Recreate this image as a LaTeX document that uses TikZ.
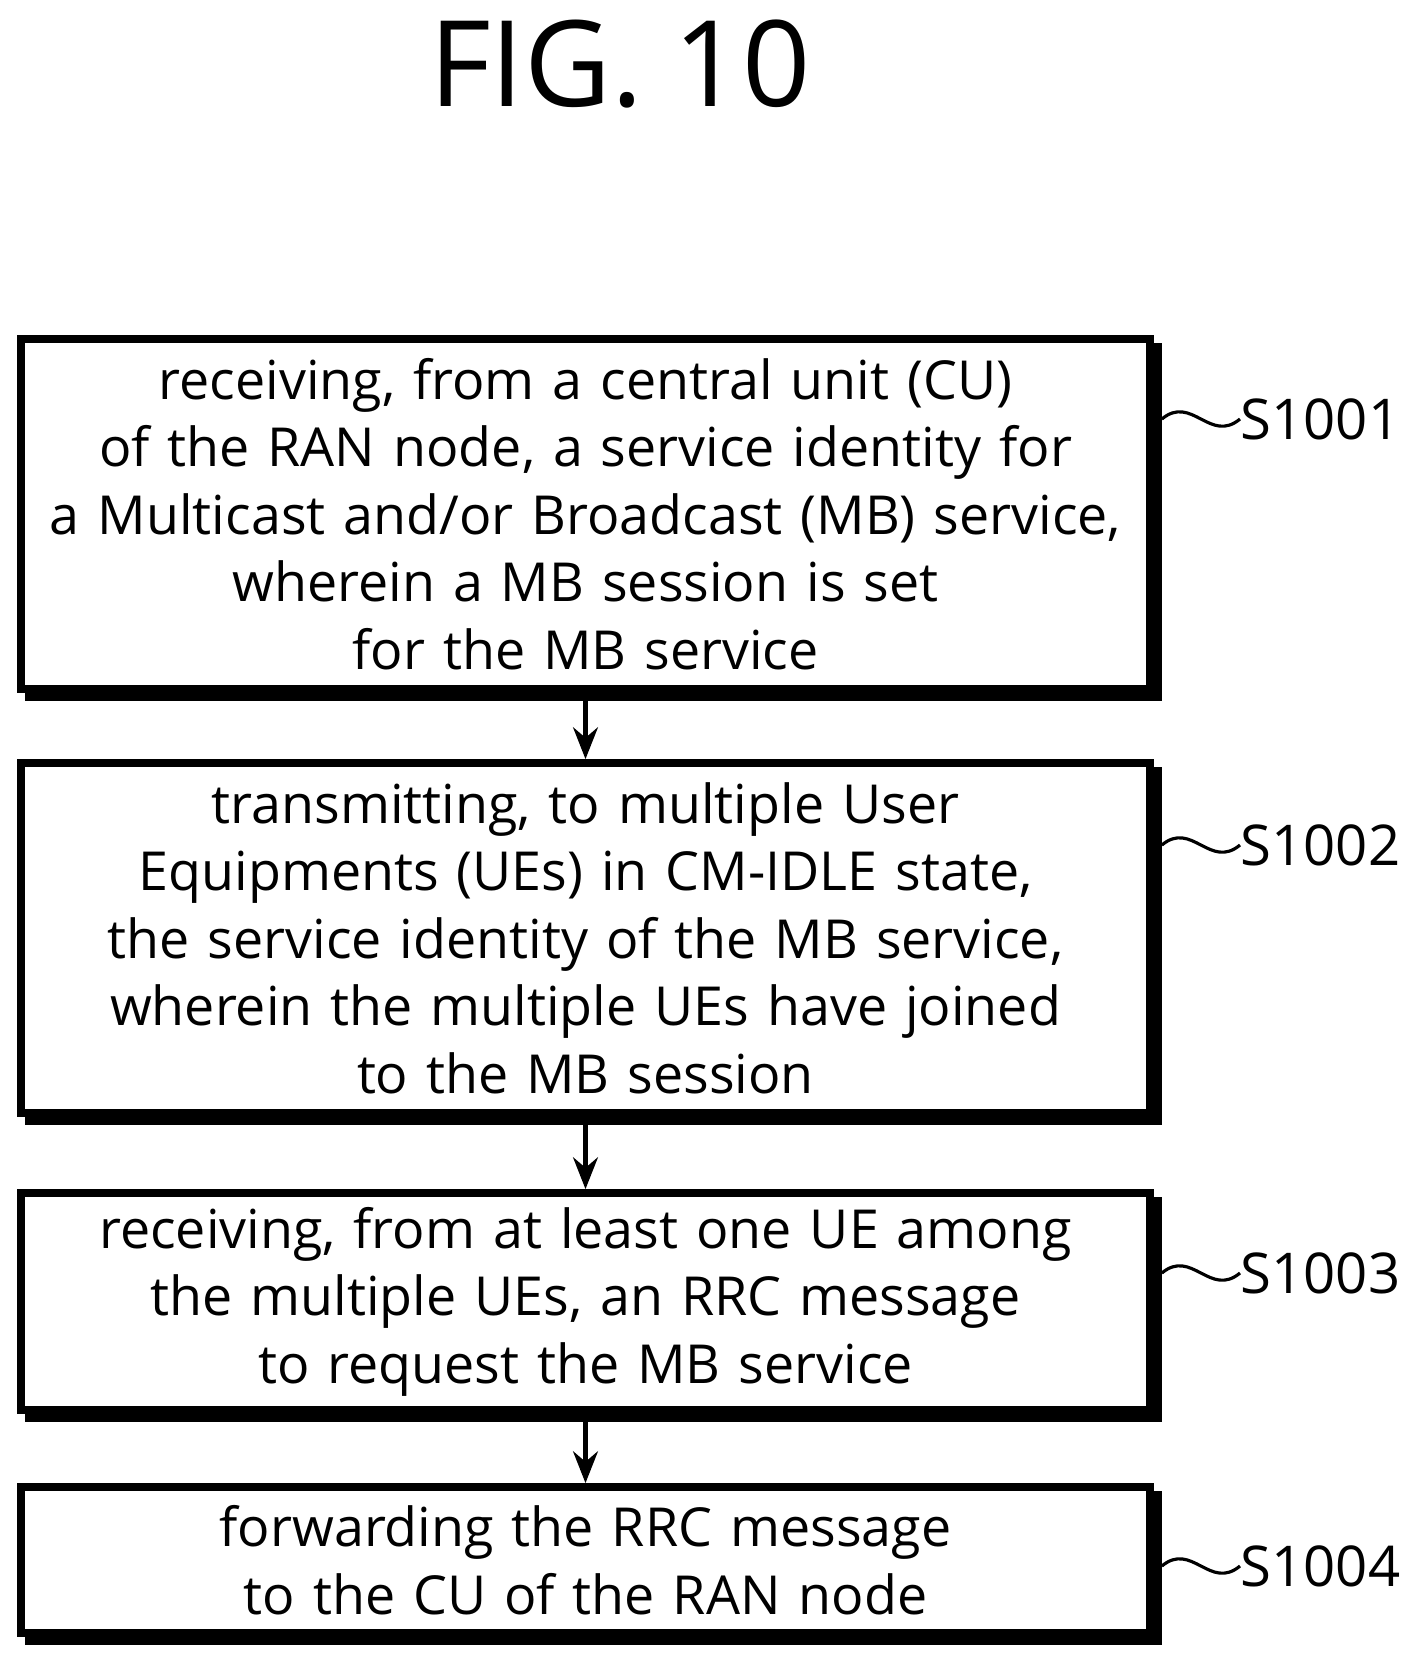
\documentclass[tikz,border=0pt]{standalone}
\usepackage{fontspec}
\setmainfont{Open Sans}
\usetikzlibrary{positioning,arrows.meta}
\tikzset{
  stepbox/.style={draw, line width=2.2pt, fill=white, minimum width=11.29cm, text width=11.1cm, align=center,
    font=\fontsize{15.3}{19.2}\selectfont, inner sep=0pt},
  lbl/.style={anchor=west, font=\fontsize{16}{18}\selectfont, inner sep=0pt},
  flow/.style={-{Stealth[length=9pt,width=7pt]}, line width=1.6pt},
}
\newcommand{\shadowbox}[1]{\fill ([xshift=0.08cm,yshift=-0.08cm]#1.south west) rectangle ([xshift=0.08cm,yshift=-0.08cm]#1.north east);}
\newcommand{\squig}[2]{\draw[line width=0.9pt] ([xshift=0.08cm]#1.east |- #2.west) .. controls +(0.3,0.25) and +(-0.3,-0.25) .. (#2.west);}
\begin{document}
\begin{tikzpicture}
\useasboundingbox (0,0) rectangle (14.1,-16.67);
\node[font=\fontsize{34}{36}\selectfont] (title) at (6.2,-0.64) {FIG. 10};

\node[stepbox, minimum height=3.5cm] (s1) at (5.855,-5.14) {};
\node[stepbox, minimum height=3.5cm] (s2) at (5.855,-9.38) {};
\node[stepbox, minimum height=2.17cm] (s3) at (5.855,-13.015) {};
\node[stepbox, minimum height=1.46cm] (s4) at (5.855,-15.60) {};
\shadowbox{s1}\shadowbox{s2}\shadowbox{s3}\shadowbox{s4}
\node[stepbox, minimum height=3.5cm] at (s1) {receiving, from a central unit (CU)\\of the RAN node, a service identity for\\a Multicast and/or Broadcast (MB) service,\\wherein a MB session is set\\for the MB service};
\node[stepbox, minimum height=3.5cm] at (s2) {transmitting, to multiple User\\Equipments (UEs) in CM-IDLE state,\\the service identity of the MB service,\\wherein the multiple UEs have joined\\to the MB session};
\node[stepbox, minimum height=2.17cm] at (s3) {receiving, from at least one UE among\\the multiple UEs, an RRC message\\to request the MB service};
\node[stepbox, minimum height=1.46cm] at (s4) {forwarding the RRC message\\to the CU of the RAN node};

\node[lbl] (l1) at (12.40,-4.19) {S1001};
\node[lbl] (l2) at (12.40,-8.45) {S1002};
\node[lbl] (l3) at (12.40,-12.73) {S1003};
\node[lbl] (l4) at (12.40,-15.66) {S1004};
\squig{s1}{l1}
\squig{s2}{l2}
\squig{s3}{l3}
\squig{s4}{l4}

\draw[flow] ([yshift=-0.08cm]s1.south) -- (s2.north);
\draw[flow] ([yshift=-0.08cm]s2.south) -- (s3.north);
\draw[flow] ([yshift=-0.08cm]s3.south) -- (s4.north);
\end{tikzpicture}
\end{document}
